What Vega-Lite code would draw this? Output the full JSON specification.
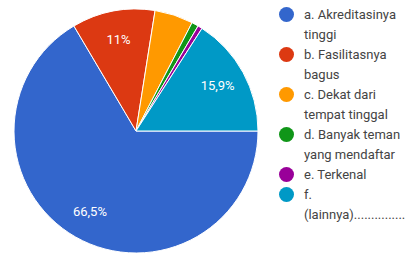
{
  "$schema": "https://vega.github.io/schema/vega-lite/v6.json",
  "width": 272,
  "height": 254,
  "padding": {"left": 0, "top": 4, "right": 0, "bottom": 0},
  "background": "white",
  "config": {"view": {"stroke": null}, "font": "Roboto", "style": {"guide-label": {"lineHeight": 20}}},
  "data": {
    "values": [
      {"kategori": "a. Akreditasinya\ntinggi", "persen": 66.5, "label": "66,5%"},
      {"kategori": "b. Fasilitasnya\nbagus", "persen": 11.0, "label": "11%"},
      {"kategori": "c. Dekat dari\ntempat tinggal", "persen": 5.1, "label": ""},
      {"kategori": "d. Banyak teman\nyang mendaftar", "persen": 0.9, "label": ""},
      {"kategori": "e. Terkenal", "persen": 0.6, "label": ""},
      {"kategori": "f.\n(lainnya)...............", "persen": 15.9, "label": "15,9%"}
    ]
  },
  "encoding": {
    "theta": {"field": "persen", "type": "quantitative", "stack": true, "scale": {"range": [1.5708, 7.854]}},
    "order": {"field": "kategori", "type": "nominal", "sort": "ascending"}
  },
  "layer": [
    {
      "mark": {"type": "arc", "radius": 122, "stroke": "white", "strokeWidth": 1},
      "encoding": {
        "color": {
          "field": "kategori",
          "type": "nominal",
          "scale": {"range": ["#3366cc", "#dc3912", "#ff9900", "#109618", "#990099", "#0099c6"]},
          "legend": {
            "title": null,
            "orient": "none",
            "legendX": 279,
            "legendY": 3,
            "symbolType": "circle",
            "symbolSize": 225,
            "symbolStrokeWidth": 0,
            "labelFont": "Roboto",
            "labelFontSize": 13,
            "labelColor": "#444444",
            "labelLimit": 0,
            "rowPadding": 5,
            "labelOffset": 10,
            "labelExpr": "split(datum.label, '\\n')"
          }
        }
      }
    },
    {
      "mark": {"type": "text", "radius": 93, "fontSize": 13, "font": "Roboto", "color": "white"},
      "encoding": {"text": {"field": "label", "type": "nominal"}}
    }
  ]
}
